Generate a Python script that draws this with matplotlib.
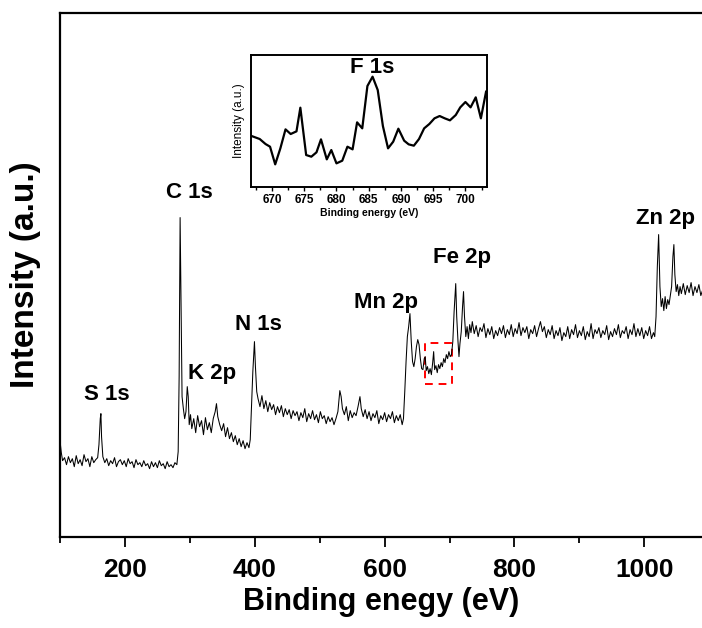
import numpy as np
import matplotlib.pyplot as plt
import matplotlib.patches as patches
from matplotlib.ticker import MultipleLocator

plt.rcParams['font.family'] = ['Liberation Sans', 'DejaVu Sans']

# ---------------- survey spectrum ----------------
energy = [
    100, 102, 104, 107, 110, 113, 116, 119, 122, 125, 128, 131, 134, 137, 140,
    143, 146, 149, 152, 155, 158, 160, 162, 163, 164, 166, 169, 172, 175, 178,
    181, 184, 187, 190, 193, 196, 199, 202, 205, 208, 211, 214, 217, 220, 223,
    226, 229, 232, 235, 238, 241, 244, 247, 250, 253, 256, 259, 262, 265, 268,
    271, 274, 277, 280, 282, 283.5, 285, 286, 287, 288, 290, 292, 294, 296,
    297.5, 299, 301, 303, 306, 309, 312, 315, 318, 321, 324, 327, 330, 333,
    336, 339, 341, 343, 346, 349, 352, 355, 358, 361, 364, 367, 370, 373, 376,
    379, 382, 385, 388, 391, 393, 395, 397, 399.5, 401, 403, 405, 408, 411,
    414, 417, 420, 423, 426, 429, 432, 435, 438, 441, 444, 447, 450, 453, 456,
    459, 462, 465, 468, 471, 474, 477, 480, 483, 486, 489, 492, 495, 498, 501,
    504, 507, 510, 513, 516, 519, 522, 525, 528, 531, 533, 535, 538, 541, 544,
    547, 550, 553, 556, 559, 562, 564, 567, 570, 573, 576, 579, 582, 585, 588,
    591, 594, 597, 600, 603, 606, 609, 612, 615, 618, 621, 624, 627, 629, 631,
    633, 635, 637, 639, 641, 643, 645, 647, 649, 651, 653, 655, 657, 659, 661,
    662.5, 664, 666, 668, 670, 672, 674, 675.5, 677, 679, 681, 683, 685, 687,
    689, 691, 693, 695, 697, 699, 701, 703, 705, 707, 709.5, 711, 713, 714.5,
    716, 718, 720, 721.5, 723, 725, 727, 729, 731, 733, 735, 738, 741, 744,
    747, 750, 753, 756, 759, 762, 765, 768, 771, 774, 777, 780, 783, 786, 789,
    792, 795, 798, 801, 804, 807, 810, 813, 816, 819, 822, 825, 828, 831, 834,
    837, 840, 843, 846, 849, 852, 855, 858, 861, 864, 867, 870, 873, 876, 879,
    882, 885, 888, 891, 894, 897, 900, 903, 906, 909, 912, 915, 918, 921, 924,
    927, 930, 933, 936, 939, 942, 945, 948, 951, 954, 957, 960, 963, 966, 969,
    972, 975, 978, 981, 984, 987, 990, 993, 996, 999, 1002, 1005, 1008, 1011,
    1014, 1016, 1018, 1020, 1022, 1024, 1026, 1028, 1030, 1032, 1034, 1036,
    1038, 1040, 1042, 1044, 1045.5, 1047, 1049, 1051, 1053, 1055, 1057, 1060,
    1063, 1066, 1069, 1072, 1075, 1078, 1081, 1084, 1087, 1090,
]
intensity = [
    96, 84, 76, 79, 72, 80, 74, 78, 70, 81, 73, 77, 71, 82, 75,
    78, 70, 80, 74, 77, 79, 92, 118, 123, 100, 80, 74, 78, 71, 76,
    73, 79, 70, 75, 77, 72, 76, 70, 78, 73, 75, 69, 77, 72, 74,
    70, 76, 71, 73, 68, 75, 70, 74, 69, 76, 71, 73, 68, 75, 70,
    72, 69, 74, 72, 85, 160, 319, 260, 200, 140, 128, 118, 125, 150,
    140, 112, 122, 108, 118, 104, 121, 110, 116, 102, 119, 107, 114, 104,
    118, 125, 133, 120, 112, 106, 113, 100, 109, 98, 104, 95, 101, 92, 98,
    90, 96, 88, 94, 89, 97, 130, 165, 195, 170, 145, 138, 130, 141,
    128, 136, 125, 134, 127, 132, 122, 130, 124, 131, 120, 128, 122, 127, 118,
    126, 121, 125, 116, 124, 119, 128, 115, 123, 118, 126, 117, 122, 114, 125,
    118, 121, 113, 120, 115, 119, 112, 118, 125, 146, 140, 128, 122, 130, 116,
    126, 119, 124, 121, 130, 140, 128, 120, 127, 118, 125, 116, 123, 119, 126,
    113, 121, 117, 124, 115, 122, 118, 125, 114, 121, 116, 122, 112, 118, 145,
    175, 200, 210, 223, 195, 175, 170, 178, 190, 197, 192, 178, 168, 167, 178,
    180, 166, 170, 163, 168, 162, 174, 185, 167, 171, 164, 172, 168, 174,
    170, 178, 174, 182, 178, 185, 180, 182, 195, 225, 253, 220, 195, 180,
    193, 205, 230, 245, 220, 200, 210, 198, 212, 204, 215, 203, 211, 200,
    209, 205, 213, 199, 208, 202, 210, 198, 206, 201, 209, 203, 211, 199, 207,
    202, 212, 200, 208, 203, 214, 201, 209, 204, 210, 198, 207, 203, 211, 200,
    208, 215, 205, 210, 199, 207, 202, 211, 198, 206, 201, 209, 196, 204, 200,
    210, 198, 207, 202, 212, 199, 206, 201, 210, 197, 205, 200, 213, 198, 207,
    203, 209, 199, 206, 202, 211, 197, 205, 200, 208, 202, 212, 199, 206, 203,
    210, 198, 207, 202, 213, 200, 208, 201, 209, 198, 206, 201, 210, 198,
    204, 200, 220, 270, 302, 250, 230, 238, 226, 240, 228, 237,
    232, 241, 250, 280, 292, 262, 245, 252, 241, 250, 243, 253,
    242, 251, 244, 254, 241, 250, 244, 252, 241, 247,
]

peak_names = ['S 1s', 'C 1s', 'K 2p', 'N 1s', 'Mn 2p', 'Fe 2p', 'Zn 2p']
peak_label_x = [172, 300, 334, 405, 602, 719, 1033]
peak_label_y = [142, 344, 163, 212, 234, 279, 318]

# ---------------- F 1s detail (inset) ----------------
f1s_energy = [
    666.7, 668.1, 669.0, 669.7, 670.5, 671.3, 672.1, 672.9, 673.8, 674.4,
    675.3, 676.1, 676.9, 677.6, 678.5, 679.2, 680.0, 680.9, 681.7, 682.5,
    683.2, 684.0, 684.8, 685.6, 686.4, 687.2, 688.0, 688.8, 689.6, 690.5,
    691.2, 692.0, 692.8, 693.6, 694.4, 695.2, 696.0, 696.8, 697.6, 698.5,
    699.2, 700.0, 700.8, 701.6, 702.4, 703.2,
]
f1s_intensity = [
    153, 143, 128, 120, 67, 115, 172, 158, 166, 237,
    95, 90, 103, 142, 82, 110, 70, 78, 120, 112,
    193, 175, 302, 330, 290, 182, 115, 135, 174, 138,
    127, 123, 143, 175, 188, 205, 212, 205, 199, 215,
    238, 254, 238, 268, 205, 285,
]

fig = plt.figure(figsize=(7.02, 6.28), dpi=100)
ax = fig.add_axes([60 / 702, 1 - 536.7 / 628, 642 / 702, 524.2 / 628])

ax.plot(energy, intensity, color='black', linewidth=0.75)
ax.set_xlim(100, 1088.8)
ax.set_ylim(0, 524)

ax.xaxis.set_major_locator(MultipleLocator(200))
ax.xaxis.set_minor_locator(MultipleLocator(100))
ax.tick_params(axis='x', which='major', direction='out', length=7, width=1.3,
               labelsize=19, pad=8)
ax.tick_params(axis='x', which='minor', direction='out', length=4.5, width=1.3)
ax.set_yticks([])
for lab in ax.get_xticklabels():
    lab.set_fontweight('bold')
for side in ['left', 'bottom', 'top']:
    ax.spines[side].set_linewidth(1.6)
ax.spines['right'].set_visible(False)

ax.set_xlabel('Binding enegy (eV)', fontsize=22, fontweight='bold', labelpad=4)
ax.set_ylabel('Intensity (a.u.)', fontsize=24, fontweight='bold', labelpad=14)

for name, px, py in zip(peak_names, peak_label_x, peak_label_y):
    ax.text(px, py, name, ha='center', va='center', fontsize=16, fontweight='bold')

# red dashed box around the F 1s region
box = patches.Rectangle((662.5, 153), 42, 41, fill=False, edgecolor='red',
                        linewidth=1.4, linestyle=(0, (4, 3)))
ax.add_patch(box)

# ---------------- inset ----------------
axin = fig.add_axes([250.7 / 702, 1 - 186.7 / 628, 236 / 702, 131.7 / 628])
axin.plot(f1s_energy, f1s_intensity, color='black', linewidth=1.6)
axin.set_xlim(666.7, 703.3)
axin.set_ylim(0, 395)
axin.set_yticks([])
axin.xaxis.set_major_locator(MultipleLocator(5))
axin.xaxis.set_minor_locator(MultipleLocator(2.5))
axin.tick_params(axis='x', which='major', direction='out', length=3, width=1,
                 labelsize=8.5, pad=2)
axin.tick_params(axis='x', which='minor', direction='out', length=2, width=1)
for lab in axin.get_xticklabels():
    lab.set_fontweight('bold')
for side in axin.spines.values():
    side.set_linewidth(1.4)
axin.set_xlabel('Binding energy (eV)', fontsize=7.5, fontweight='bold', labelpad=2)
axin.set_ylabel('Intensity (a.u.)', fontsize=8.5, labelpad=4)
axin.text(685.5, 358, 'F 1s', ha='center', va='center', fontsize=16,
          fontweight='bold')

fig.savefig('out.png', dpi=100)
